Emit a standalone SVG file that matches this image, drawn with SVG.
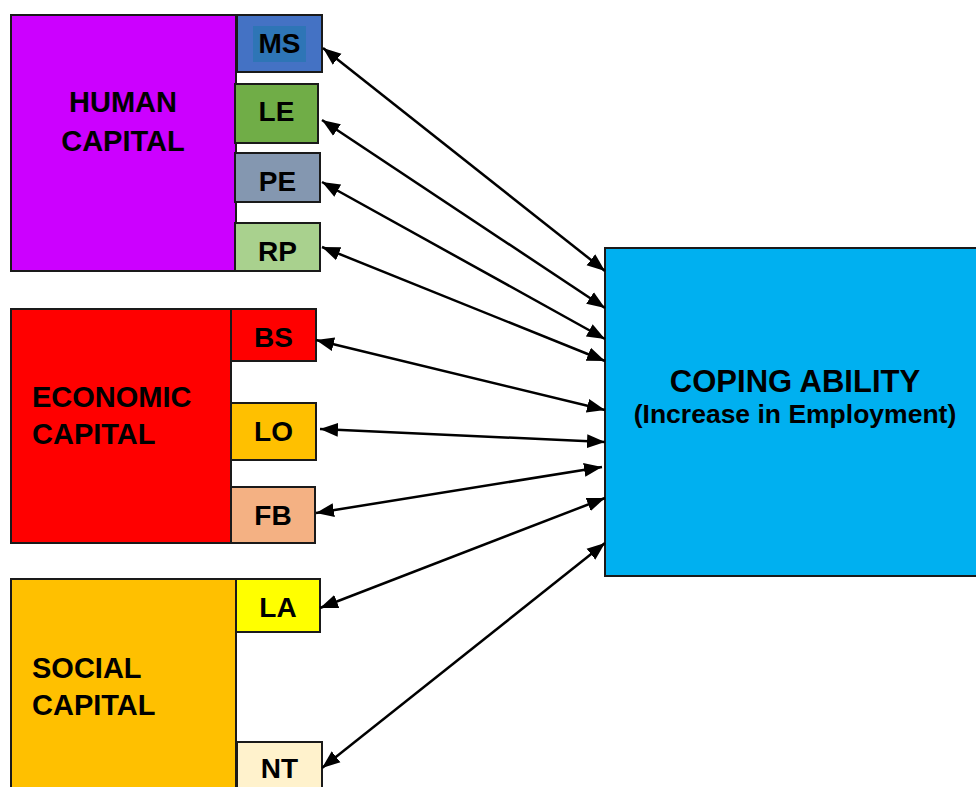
<svg xmlns="http://www.w3.org/2000/svg" width="976" height="787" viewBox="0 0 976 787">
<style>
.box{stroke:#1a1a1a;stroke-width:2}
.t{font-family:"Liberation Sans",Arial,sans-serif;font-weight:bold;fill:#000}
.big{font-size:29px}
.lbl{font-size:28px;text-anchor:middle}
.c{stroke:#000;stroke-width:2.5;fill:none;marker-start:url(#ah);marker-end:url(#ah)}
</style>
<defs>
<marker id="ah" markerUnits="userSpaceOnUse" markerWidth="19" markerHeight="16" refX="18" refY="8" orient="auto-start-reverse">
<path d="M0,1 L18,8 L0,15 Z" fill="#000"/>
</marker>
</defs>
<rect width="976" height="787" fill="#fff"/>

<g id="human">
<rect class="box" x="11" y="15" width="225" height="256" fill="#CC00FF"/>
<text class="t big" x="123" y="112" text-anchor="middle">HUMAN</text>
<text class="t big" x="123" y="151" text-anchor="middle">CAPITAL</text>
</g>
<g id="MS">
<rect class="box" x="237" y="15" width="85" height="57" fill="#4472C4"/>
<rect x="253" y="26" width="53" height="36" fill="#2E75B6"/>
<text class="t lbl" x="279.5" y="53">MS</text>
</g>
<g id="LE">
<rect class="box" x="235" y="84" width="83" height="59" fill="#70AD47"/>
<text class="t lbl" x="276.5" y="121">LE</text>
</g>
<g id="PE">
<rect class="box" x="235" y="153" width="85" height="49" fill="#8497B0"/>
<text class="t lbl" x="277.5" y="191">PE</text>
</g>
<g id="RP">
<rect class="box" x="235" y="223" width="85" height="48" fill="#A9D18E"/>
<text class="t lbl" x="277.5" y="261">RP</text>
</g>

<g id="economic">
<rect class="box" x="11" y="309" width="220" height="234" fill="#FF0000"/>
<text class="t big" x="32" y="407">ECONOMIC</text>
<text class="t big" x="32" y="444">CAPITAL</text>
</g>
<g id="BS">
<rect class="box" x="231" y="309" width="85" height="52" fill="#FF0000"/>
<text class="t lbl" x="273.5" y="347">BS</text>
</g>
<g id="LO">
<rect class="box" x="231" y="403" width="85" height="57" fill="#FFC000"/>
<text class="t lbl" x="273.5" y="441">LO</text>
</g>
<g id="FB">
<rect class="box" x="231" y="487" width="84" height="56" fill="#F4B183"/>
<text class="t lbl" x="273" y="525">FB</text>
</g>

<g id="social">
<rect class="box" x="11" y="579" width="225" height="220" fill="#FFC000"/>
<text class="t big" x="32" y="678">SOCIAL</text>
<text class="t big" x="32" y="715">CAPITAL</text>
</g>
<g id="LA">
<rect class="box" x="236" y="579" width="84" height="53" fill="#FFFF00"/>
<text class="t lbl" x="278" y="617">LA</text>
</g>
<g id="NT">
<rect class="box" x="237" y="742" width="85" height="60" fill="#FFF2CC"/>
<text class="t lbl" x="279.5" y="778">NT</text>
</g>

<g id="coping">
<rect class="box" x="605" y="248" width="380" height="328" fill="#00B0F0"/>
<text class="t" x="795" y="392" text-anchor="middle" font-size="31">COPING ABILITY</text>
<text class="t" x="795" y="423" text-anchor="middle" font-size="26.5">(Increase in Employment)</text>
</g>

<g id="connectors">
<line class="c" x1="323" y1="48" x2="605" y2="271"/>
<line class="c" x1="322" y1="120" x2="605" y2="308"/>
<line class="c" x1="322" y1="182" x2="605" y2="339"/>
<line class="c" x1="322" y1="247" x2="605" y2="361"/>
<line class="c" x1="316" y1="340" x2="605" y2="410"/>
<line class="c" x1="320" y1="429" x2="605" y2="442"/>
<line class="c" x1="316" y1="513" x2="602" y2="467"/>
<line class="c" x1="320" y1="608" x2="605" y2="498"/>
<line class="c" x1="322" y1="768" x2="605" y2="543"/>
</g>
</svg>
